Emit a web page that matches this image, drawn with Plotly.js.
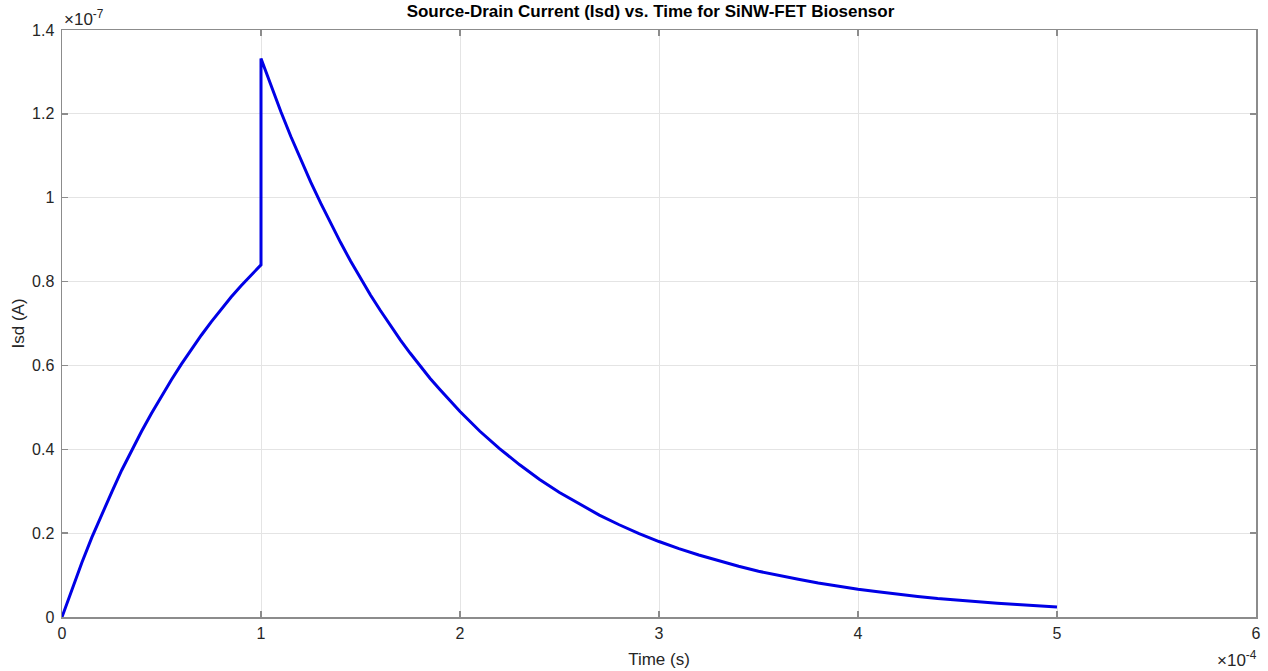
<!DOCTYPE html>
<html>
<head>
<meta charset="utf-8">
<script src="https://cdn.plot.ly/plotly-3.0.1.min.js"></script>
<style>
html,body{margin:0;padding:0;background:#fff;}
#chart{width:1268px;height:671px;}
</style>
</head>
<body>
<div id="chart"></div>
<script>
// Time in units of 1e-4 s, current in units of 1e-7 A
const timeExponent = -4;
const currentExponent = -7;

const riseTime = [0, 0.05, 0.1, 0.15, 0.2, 0.25, 0.3, 0.35, 0.4, 0.45, 0.5,
                  0.55, 0.6, 0.65, 0.7, 0.75, 0.8, 0.85, 0.9, 0.95, 1.0];
const riseIsd  = [0, 0.066, 0.13, 0.19, 0.245, 0.298, 0.35, 0.397, 0.443, 0.486, 0.527,
                  0.566, 0.603, 0.638, 0.672, 0.704, 0.734, 0.763, 0.79, 0.816, 0.84];

const decayTime = [1.0, 1.05, 1.1, 1.15, 1.2, 1.25, 1.3, 1.35, 1.4, 1.45, 1.5,
                   1.55, 1.6, 1.65, 1.7, 1.75, 1.8, 1.85, 1.9, 1.95,
                   2.0, 2.1, 2.2, 2.3, 2.4, 2.5, 2.6, 2.7, 2.8, 2.9,
                   3.0, 3.1, 3.2, 3.3, 3.4, 3.5, 3.6, 3.7, 3.8, 3.9,
                   4.0, 4.1, 4.2, 4.3, 4.4, 4.5, 4.6, 4.7, 4.8, 4.9, 5.0];
const decayIsd  = [1.332, 1.267, 1.205, 1.146, 1.091, 1.037, 0.987, 0.939, 0.893, 0.849, 0.808,
                   0.768, 0.731, 0.695, 0.661, 0.629, 0.598, 0.569, 0.542, 0.515,
                   0.490, 0.443, 0.401, 0.363, 0.328, 0.297, 0.269, 0.243, 0.220, 0.199,
                   0.180, 0.163, 0.148, 0.134, 0.121, 0.109, 0.099, 0.090, 0.081, 0.073,
                   0.066, 0.060, 0.054, 0.049, 0.044, 0.040, 0.036, 0.033, 0.030, 0.027, 0.024];

const xTicks = [0, 1, 2, 3, 4, 5, 6];
const yTicks = [0, 0.2, 0.4, 0.6, 0.8, 1, 1.2, 1.4];
const yTickText = ['0', '0.2', '0.4', '0.6', '0.8', '1', '1.2', '1.4'];

const t = riseTime.concat(decayTime);
const isd = riseIsd.concat(decayIsd);

const axisColor = '#8c8c8c';
const textColor = '#262626';
const font = 'Liberation Sans, Arial, Helvetica, sans-serif';

const trace = {
  x: t, y: isd, type: 'scatter', mode: 'lines',
  line: {color: '#0000e6', width: 3},
  hoverinfo: 'skip'
};

const layout = {
  width: 1268, height: 671,
  margin: {l: 62, r: 12, t: 30, b: 54},
  paper_bgcolor: '#fff', plot_bgcolor: '#fff',
  showlegend: false,
  font: {family: font, color: textColor, size: 16},
  title: {
    text: '<b>Source-Drain Current (Isd) vs. Time for SiNW-FET Biosensor</b>',
    font: {family: font, size: 17, color: '#000'},
    x: 0.513, xanchor: 'center', y: 0.983, yanchor: 'middle'
  },
  xaxis: {
    range: [0, 6], tickvals: xTicks, ticktext: xTicks.map(String),
    showgrid: true, gridcolor: '#e4e4e4', gridwidth: 1,
    zeroline: false, showline: true, linecolor: axisColor, linewidth: 1.5,
    mirror: 'ticks', ticks: 'inside', ticklen: 6, tickcolor: axisColor, tickwidth: 1.5,
    tickfont: {size: 16, color: textColor},
    ticklabelstandoff: 1,
    title: {text: 'Time (s)', font: {size: 17, color: textColor}, standoff: 12}
  },
  yaxis: {
    range: [0, 1.4], tickvals: yTicks, ticktext: yTickText,
    showgrid: true, gridcolor: '#e4e4e4', gridwidth: 1,
    zeroline: false, showline: true, linecolor: axisColor, linewidth: 1.5,
    mirror: 'ticks', ticks: 'inside', ticklen: 6, tickcolor: axisColor, tickwidth: 1.5,
    tickfont: {size: 16, color: textColor},
    ticklabelstandoff: 3,
    title: {text: 'Isd (A)', font: {size: 17, color: textColor}, standoff: 3}
  },
  annotations: [
    {xref: 'paper', yref: 'paper', x: 0, y: 1, xanchor: 'left', yanchor: 'bottom',
     xshift: 0, yshift: -1,
     text: '×10<sup>' + currentExponent + '</sup>', showarrow: false,
     font: {size: 17, color: textColor}},
    {xref: 'paper', yref: 'paper', x: 1, y: 0, xanchor: 'right', yanchor: 'top',
     xshift: 3, yshift: -29,
     text: '×10<sup>' + timeExponent + '</sup>', showarrow: false,
     font: {size: 17, color: textColor}}
  ]
};

Plotly.newPlot('chart', [trace], layout, {displayModeBar: false, staticPlot: true});
</script>
</body>
</html>
